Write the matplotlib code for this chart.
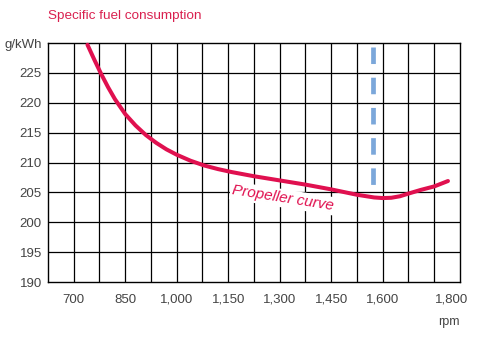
import matplotlib
matplotlib.use("Agg")
import matplotlib.pyplot as plt
import numpy as np

# Data
rpm = [740, 760, 780, 800, 820, 850, 880, 910, 940, 970, 1000, 1040, 1080,
       1120, 1160, 1225, 1300, 1375, 1450, 1525, 1575, 1600, 1625, 1650,
       1675, 1710, 1750, 1790]
sfc = [229.7, 227.2, 224.8, 222.6, 220.6, 218.1, 216.2, 214.6, 213.3, 212.2,
       211.3, 210.3, 209.5, 208.9, 208.4, 207.7, 207.0, 206.3, 205.5, 204.6,
       204.15, 204.05, 204.1, 204.35, 204.8, 205.4, 206.0, 206.9]

marker_rpm = 1572
marker_range = [229.3, 206.3]

xtick_vals = [700, 850, 1000, 1150, 1300, 1450, 1600, 1800]
xtick_labels = ["700", "850", "1,000", "1,150", "1,300", "1,450", "1,600", "1,800"]
ytick_vals = [190, 195, 200, 205, 210, 215, 220, 225, 230]
ytick_labels = ["190", "195", "200", "205", "210", "215", "220", "225", "g/kWh"]

x_min, x_max, x_step = 625, 1825, 75
y_min, y_max, y_step = 190, 230, 5

title = "Specific fuel consumption"
curve_label = "Propeller curve"
x_unit = "rpm"

RED = "#e0104f"
TITLE_RED = "#d9204f"
BLUE = "#7ba7da"
GRAY = "#444444"

fig = plt.figure(figsize=(4.79, 3.41), dpi=100)
ax = fig.add_axes([0.1002, 0.1730, 0.8601, 0.7009])
ax.set_xlim(x_min, x_max)
ax.set_ylim(y_min, y_max)

# grid
for gx in np.arange(x_min + x_step, x_max, x_step):
    ax.axvline(gx, color="black", linewidth=0.9, zorder=1)
for gy in np.arange(y_min + y_step, y_max, y_step):
    ax.axhline(gy, color="black", linewidth=0.9, zorder=1)
ax.tick_params(which="both", length=0)
for s in ax.spines.values():
    s.set_color("black")
    s.set_linewidth(1.0)

ax.set_xticks(xtick_vals)
ax.set_xticklabels(xtick_labels, fontfamily="Liberation Sans", fontsize=9.5, color=GRAY)
ax.set_yticks(ytick_vals)
ax.set_yticklabels(ytick_labels, fontfamily="Liberation Sans", fontsize=9.5, color=GRAY)
ax.tick_params(axis="x", pad=8.5)
ax.tick_params(axis="y", pad=4.5)

# blue dashed marker
ax.plot([marker_rpm, marker_rpm], marker_range, color=BLUE, linewidth=3.4,
        linestyle=(0, (3.5, 2.9)), solid_capstyle="butt", dash_capstyle="butt", zorder=3)

# curve
ax.plot(rpm, sfc, color=RED, linewidth=2.9, solid_capstyle="round",
        solid_joinstyle="round", zorder=4, clip_on=False)

ax.text(1310, 204.0, curve_label, color=RED, fontsize=11, style="italic",
        fontfamily="Liberation Sans", rotation=-9,
        ha="center", va="center", rotation_mode="anchor", zorder=5,
        bbox=dict(facecolor="white", edgecolor="none", pad=1.5))

fig.text(48 / 479, 1 - 16 / 341, title, color=TITLE_RED, fontsize=9.7,
         fontfamily="Liberation Sans", ha="left", va="center")
fig.text(460 / 479, 1 - 322 / 341, x_unit, color=GRAY, fontsize=9,
         fontfamily="Liberation Sans", ha="right", va="center")

fig.savefig("out.png", dpi=100)
